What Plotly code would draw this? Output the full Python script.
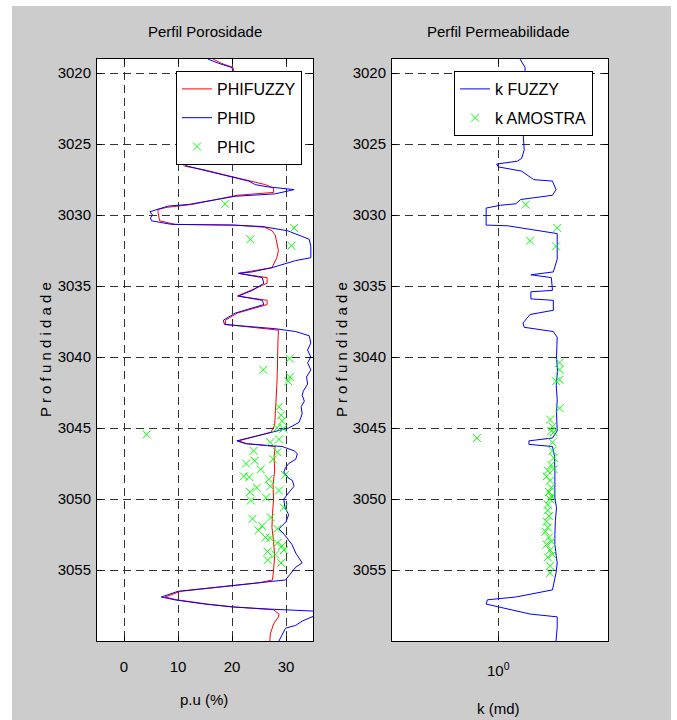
import plotly.graph_objects as go

W, H = 677, 720
FONT = "Liberation Sans, Arial, sans-serif"

# ---------------- data ----------------
phid_depth = [3019.0, 3019.3, 3019.6, 3020.5, 3022.0, 3023.5, 3025.0, 3025.8, 3026.1, 3026.45,
              3026.55, 3026.8, 3027.15, 3027.6, 3027.85, 3028.0, 3028.2, 3028.5, 3028.67, 3029.25,
              3029.36, 3029.6, 3029.76, 3030.0, 3030.2, 3030.4, 3030.65, 3030.7, 3030.8, 3031.1,
              3031.5, 3031.7, 3032.2, 3033.0, 3033.2, 3033.7, 3034.0, 3034.1, 3034.4, 3034.8,
              3035.3, 3035.7, 3036.0, 3036.3, 3036.9, 3037.4, 3037.7, 3037.8, 3038.0, 3038.2,
              3038.5, 3039.0, 3039.5, 3040.0, 3040.4, 3040.9, 3041.4, 3041.9, 3042.4, 3042.7,
              3043.1, 3043.5, 3044.0, 3044.6, 3045.0, 3045.9, 3046.1, 3046.3, 3046.6, 3046.8,
              3047.2, 3047.5, 3047.8, 3048.1, 3048.5, 3048.7, 3049.1, 3049.5, 3050.0, 3050.6,
              3051.1, 3051.6, 3052.1, 3052.5, 3052.8, 3053.2, 3053.8, 3054.5, 3054.8, 3055.2,
              3055.7, 3055.8, 3056.2, 3056.5, 3056.9, 3057.1, 3057.4, 3057.6, 3057.75, 3057.9,
              3058.1, 3058.3, 3058.6, 3058.9, 3059.1, 3059.5, 3060.0]
phid_value = [15.5, 17.5, 20.0, 20.5, 20.8, 20.6, 20.5, 19.5, 15.0, 11.3,
              11.8, 14.4, 18.1, 23.1, 24.3, 26.5, 31.5, 28.0, 20.6, 11.9,
              8.2, 6.0, 4.8, 5.3, 4.9, 5.1, 8.8, 20.0, 25.6, 30.3,
              33.0, 34.3, 34.6, 34.6, 31.8, 27.4, 23.7, 21.2, 25.6, 25.9,
              23.8, 21.2, 25.6, 25.9, 20.6, 18.4, 18.6, 22.0, 28.0, 31.8,
              34.3, 34.6, 34.0, 34.6, 34.0, 34.6, 33.8, 34.0, 33.2, 33.0,
              33.4, 32.8, 33.0, 32.4, 30.5, 20.9, 22.5, 29.3, 31.5, 32.1,
              31.8, 30.5, 29.9, 29.6, 30.4, 31.2, 31.5, 30.6, 29.6, 29.8,
              30.5, 30.0, 28.7, 29.7, 30.3, 31.1, 31.8, 33.0, 31.8, 31.0,
              29.9, 27.4, 17.5, 10.0, 6.9, 9.4, 15.0, 20.0, 26.8, 35.5,
              36.5, 34.8, 33.0, 31.8, 29.9, 29.3, 28.7]

phifuzzy_depth = [3019.0, 3019.3, 3019.6, 3020.5, 3022.0, 3023.5, 3025.0, 3025.8, 3026.1, 3026.3,
                  3026.55, 3026.8, 3027.15, 3027.6, 3027.85, 3028.1, 3028.4, 3028.6, 3029.25, 3029.45,
                  3029.6, 3029.8, 3030.4, 3030.65, 3030.7, 3030.85, 3031.1, 3031.4, 3032.0, 3032.5,
                  3033.0, 3033.7, 3034.1, 3034.4, 3034.8, 3035.3, 3035.7, 3036.0, 3036.3, 3036.9,
                  3037.4, 3037.7, 3037.9, 3038.1, 3039.0, 3040.0, 3041.0, 3042.0, 3043.0, 3044.0,
                  3044.8, 3045.3, 3045.9, 3046.1, 3046.3, 3047.0, 3048.0, 3049.0, 3050.0, 3051.0,
                  3052.0, 3053.0, 3054.0, 3055.0, 3055.7, 3055.9, 3056.2, 3056.5, 3056.9, 3057.1,
                  3057.4, 3057.6, 3057.8, 3058.1, 3058.3, 3058.8, 3059.5, 3060.0]
phifuzzy_value = [16.5, 18.0, 20.2, 20.5, 20.6, 20.5, 20.3, 19.8, 14.5, 10.6,
                  11.2, 14.8, 18.5, 23.5, 26.2, 27.7, 27.7, 21.0, 12.5, 8.0,
                  6.3, 6.3, 6.6, 9.5, 20.5, 26.0, 27.4, 28.0, 28.3, 28.6,
                  28.3, 27.4, 21.2, 26.5, 26.5, 23.5, 21.0, 26.5, 26.5, 21.0,
                  18.8, 18.8, 24.0, 28.6, 28.5, 28.5, 28.4, 28.3, 28.2, 28.1,
                  27.9, 27.2, 21.2, 22.8, 28.0, 27.8, 27.9, 27.6, 27.7, 27.5,
                  27.4, 27.7, 27.9, 27.7, 27.5, 25.0, 17.8, 10.5, 7.6, 9.8,
                  15.5, 20.3, 27.7, 28.7, 28.6, 27.7, 27.1, 27.0]

phic_depth = [3029.2, 3030.9, 3031.7, 3032.15, 3040.1, 3040.9, 3041.4, 3041.7, 3043.5, 3044.1,
              3044.5, 3045.0, 3045.05, 3045.45, 3045.8, 3046.0, 3046.6, 3046.7, 3047.2, 3047.3,
              3047.5, 3047.9, 3048.3, 3048.4, 3048.45, 3048.6, 3049.1, 3049.2, 3049.4, 3049.5,
              3049.9, 3050.1, 3050.6, 3051.3, 3051.4, 3051.9, 3052.1, 3052.2, 3052.7, 3052.75,
              3053.1, 3053.3, 3053.6, 3053.7, 3053.9, 3054.3, 3054.5]
phic_value = [18.7, 31.5, 23.4, 31.0, 30.7, 25.8, 30.7, 30.4, 28.7, 29.1,
              29.3, 28.3, 29.5, 4.2, 28.7, 27.1, 24.0, 28.4, 27.6, 24.2,
              22.6, 25.3, 29.8, 22.2, 23.2, 26.8, 27.1, 24.6, 28.7, 23.3,
              26.3, 23.5, 29.6, 27.2, 23.8, 25.6, 28.4, 24.9, 26.2, 27.1,
              28.4, 29.3, 29.6, 26.6, 28.0, 26.6, 29.1]

kfuzzy_depth = [3019.0, 3019.6, 3021.0, 3023.0, 3024.4, 3025.4, 3026.0, 3026.2, 3026.4, 3026.6,
                3026.9, 3027.5, 3027.6, 3028.2, 3028.6, 3028.9, 3029.2, 3029.3, 3029.5, 3030.7,
                3030.75, 3031.3, 3032.5, 3033.1, 3034.0, 3034.2, 3034.4, 3035.3, 3035.4, 3035.9,
                3036.0, 3036.7, 3037.0, 3037.6, 3037.9, 3038.2, 3038.6, 3040.0, 3041.0, 3042.0,
                3043.0, 3044.0, 3045.2, 3045.7, 3045.9, 3046.15, 3046.3, 3047.0, 3048.0, 3049.0,
                3050.0, 3050.6, 3051.5, 3052.5, 3053.2, 3054.0, 3054.5, 3055.2, 3056.4, 3056.9,
                3057.1, 3057.4, 3057.6, 3058.1, 3058.3, 3059.0, 3060.0]
kfuzzy_value = [1.53, 1.69, 1.66, 1.64, 1.63, 1.66, 1.58, 1.45, 0.97, 1.00,
                1.58, 2.00, 2.88, 3.09, 2.88, 1.55, 1.41, 1.05, 0.79, 0.79,
                1.20, 3.16, 3.16, 3.16, 2.93, 1.89, 2.82, 2.88, 1.89, 1.89,
                2.93, 2.93, 1.86, 1.62, 1.66, 2.93, 3.16, 3.12, 3.18, 3.10,
                3.16, 3.12, 3.16, 2.88, 1.82, 1.82, 2.88, 3.00, 3.02, 3.00,
                3.02, 3.12, 3.05, 3.02, 3.02, 3.10, 3.16, 3.09, 2.88, 1.41,
                0.81, 0.79, 1.00, 1.86, 3.16, 3.16, 3.09]

kamostra_depth = [3029.25, 3030.9, 3031.8, 3032.2, 3040.4, 3040.9, 3041.6, 3041.7, 3043.6, 3044.4,
                  3044.9, 3045.3, 3045.7, 3045.2, 3046.0, 3046.6, 3047.1, 3047.6, 3048.0, 3048.4,
                  3048.7, 3049.2, 3049.5, 3050.0, 3050.4, 3050.8, 3051.6, 3052.0, 3052.3, 3052.7,
                  3053.0, 3053.2, 3053.6, 3054.1, 3054.7, 3055.2, 3047.9, 3049.8, 3051.2, 3053.9]
kamostra_value = [1.71, 3.16, 1.86, 3.09, 3.31, 3.31, 3.31, 3.09, 3.31, 2.75,
                  2.88, 2.95, 0.66, 2.82, 2.88, 2.88, 2.95, 2.82, 2.63, 2.57,
                  2.75, 2.82, 2.69, 2.75, 2.63, 2.63, 2.57, 2.63, 2.51, 2.69,
                  2.82, 2.57, 2.75, 2.63, 2.75, 2.75, 2.95, 2.82, 2.69, 2.88]

left_xticks = [0, 10, 20, 30]
depth_ticks = [3020, 3025, 3030, 3035, 3040, 3045, 3050, 3055]

# ---------------- figure ----------------
fig = go.Figure()
fig.add_trace(go.Scatter(x=phifuzzy_value, y=phifuzzy_depth, mode="lines", name="PHIFUZZY",
                         line=dict(color="#ff0000", width=1), xaxis="x", yaxis="y",
                         legend="legend", legendgroup="a"))
fig.add_trace(go.Scatter(x=phid_value, y=phid_depth, mode="lines", name="PHID",
                         line=dict(color="#0000ff", width=1), xaxis="x", yaxis="y",
                         legend="legend", legendgroup="b"))
fig.add_trace(go.Scatter(x=phic_value, y=phic_depth, mode="markers", name="PHIC",
                         marker=dict(symbol="x-thin", size=8, line=dict(color="#00ff00", width=1)),
                         xaxis="x", yaxis="y", legend="legend", legendgroup="c"))
fig.add_trace(go.Scatter(x=kfuzzy_value, y=kfuzzy_depth, mode="lines", name="k FUZZY",
                         line=dict(color="#0000ff", width=1), xaxis="x2", yaxis="y2",
                         legend="legend2", legendgroup="d"))
fig.add_trace(go.Scatter(x=kamostra_value, y=kamostra_depth, mode="markers", name="k AMOSTRA",
                         marker=dict(symbol="x-thin", size=8, line=dict(color="#00ff00", width=1)),
                         xaxis="x2", yaxis="y2", legend="legend2", legendgroup="e"))

tickfont = dict(family=FONT, size=15, color="black")
common = dict(showline=True, linecolor="black", linewidth=1, mirror="ticks",
              ticks="inside", ticklen=5, tickcolor="black", showgrid=True,
              gridcolor="#333333", gridwidth=1, griddash="8px,5px", zeroline=False,
              tickfont=tickfont)

ydom = [1 - 641 / H, 1 - 59 / H]
legfont = dict(family=FONT, size=16, color="black")
fig.update_layout(
    width=W, height=H,
    margin=dict(l=0, r=0, t=0, b=0),
    paper_bgcolor="#cccccc", plot_bgcolor="white",
    xaxis=dict(domain=[97 / W, 313 / W], range=[-5, 35], tickvals=left_xticks,
               anchor="y", ticklabelstandoff=12, **common),
    yaxis=dict(domain=ydom, range=[3060, 3019], tickvals=depth_ticks, anchor="x",
               ticklabelstandoff=2, **common),
    xaxis2=dict(domain=[392 / W, 608 / W], type="log", range=[-0.9, 0.93], tickvals=[1],
                ticktext=["10<sup>0</sup>"], anchor="y2", ticklabelstandoff=16, **common),
    yaxis2=dict(domain=ydom, range=[3060, 3019], tickvals=depth_ticks, anchor="x2",
                ticklabelstandoff=2, **common),
    legend=dict(x=176 / W, y=1 - 71 / H, xanchor="left", yanchor="top", bgcolor="white",
                bordercolor="black", borderwidth=1, font=legfont,
                tracegroupgap=5, itemwidth=30),
    legend2=dict(x=454 / W, y=1 - 71 / H, xanchor="left", yanchor="top", bgcolor="white",
                 bordercolor="black", borderwidth=1, font=legfont,
                 tracegroupgap=5, itemwidth=30),
    showlegend=True,
)

ann_font = dict(family=FONT, size=15, color="black")
anns = [
    dict(text="Perfil Porosidade", x=205 / W, y=1 - 32 / H),
    dict(text="Perfil Permeabilidade", x=498 / W, y=1 - 32 / H),
    dict(text="p.u (%)", x=203.5 / W, y=1 - 699 / H),
    dict(text="k (md)", x=498 / W, y=1 - 708 / H),
    dict(text="P r o f u n d i d a d e", x=45 / W, y=1 - 350 / H, textangle=-90),
    dict(text="P r o f u n d i d a d e", x=341 / W, y=1 - 350 / H, textangle=-90),
]
for a in anns:
    fig.add_annotation(xref="paper", yref="paper", xanchor="center", yanchor="middle",
                       showarrow=False, font=ann_font, **a)

# white outer border around the grey figure
for x0, x1, y0, y1 in [(0, 12 / W, 0, 1), (0, 1, 1 - 6 / H, 1), (671 / W, 1, 0, 1)]:
    fig.add_shape(type="rect", xref="paper", yref="paper", x0=x0, x1=x1, y0=y0, y1=y1,
                  fillcolor="white", line=dict(width=0), layer="above")

fig.write_html("out.html")
